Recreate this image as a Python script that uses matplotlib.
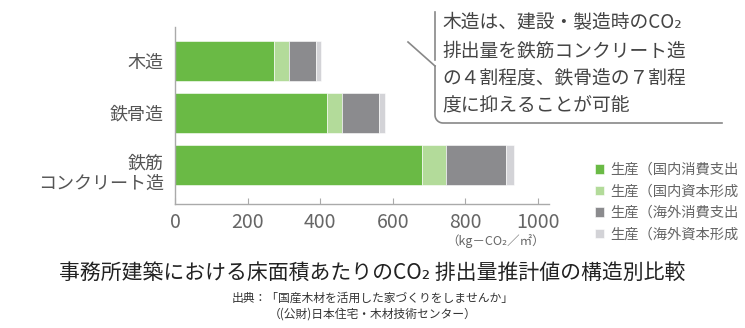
import numpy as np
import matplotlib
matplotlib.use("Agg")
import matplotlib.pyplot as plt
from matplotlib.transforms import ScaledTranslation

plt.rcParams['font.family'] = ['Noto Sans CJK JP', 'DejaVu Sans']

# data (kg-CO2/m2)
structures = ['木造', '鉄骨造', '鉄筋\nコンクリート造']
domestic_consumption = [273, 419, 680]
domestic_capital = [41, 41, 67]
overseas_consumption = [73, 102, 165]
overseas_capital = [15, 17, 22]
# legend labels as far as they show in the original (cut at the right edge)
series_labels = ['生産（国内消費支出', '生産（国内資本形成',
                 '生産（海外消費支出', '生産（海外資本形成']
series_colors = ['#6aba45', '#b3db9a', '#8b8b8e', '#d3d3d7']
xticks = [0, 200, 400, 600, 800, 1000]

callout = ['木造は、建設・製造時のCO₂',
           '排出量を鉄筋コンクリート造',
           'の４割程度、鉄骨造の７割程',
           '度に抑えることが可能']

W, H = 745, 328
fig = plt.figure(figsize=(W / 100, H / 100), dpi=100)
ax = fig.add_axes([175 / W, 1 - 204 / H, (549 - 175) / W, (204 - 27) / H])

series = [domestic_consumption, domestic_capital, overseas_consumption, overseas_capital]
y = np.arange(len(structures))
left = np.zeros(len(structures))
handles = []
for vals, col, lab in zip(series, series_colors, series_labels):
    b = ax.barh(y, vals, left=left, height=0.77, color=col, label=lab,
                edgecolor='white', linewidth=0.4)
    handles.append(b)
    left += np.array(vals)

ax.set_ylim(2.75, -0.654)
ax.set_xlim(0, 1030)
ax.set_yticks(y)
ax.set_yticklabels(structures, fontsize=13, color='#555555', linespacing=1.15)
ax.tick_params(axis='y', length=0, pad=8)
# two-line label sits a little lower in the original
rc_label = ax.get_yticklabels()[2]
rc_label.set_transform(rc_label.get_transform() + ScaledTranslation(0, -6 / 100, fig.dpi_scale_trans))
ax.set_xticks(xticks)
ax.set_xticklabels([str(t) for t in xticks], fontsize=14, color='#666666')
ax.tick_params(axis='x', direction='in', length=4, color='#aaaaaa', pad=6)
for s in ['top', 'right']:
    ax.spines[s].set_visible(False)
for s in ['left', 'bottom']:
    ax.spines[s].set_color('#aaaaaa')
    ax.spines[s].set_linewidth(1.0)

fig.text(545 / W, 1 - 241 / H, '（kg－CO₂／㎡）', ha='right', va='center',
         fontsize=9, color='#666666')

fig.legend(handles=handles, loc='upper left', bbox_to_anchor=(595 / W, 1 - 163 / H),
           frameon=False, fontsize=10.3, handlelength=0.65, handleheight=0.65,
           handletextpad=0.45, labelspacing=0.52, labelcolor='#666666',
           borderaxespad=0, borderpad=0)

# speech bubble
ov = fig.add_axes([0, 0, 1, 1], facecolor='none')
ov.set_xlim(0, W)
ov.set_ylim(H, 0)
ov.axis('off')
lc = '#888888'
ov.plot([435, 435], [12, 60], color=lc, lw=1.2)
ov.plot([408, 435], [42, 66], color=lc, lw=1.2)
r = 8
t = np.linspace(np.pi, np.pi / 2, 12)
arc_x = 435 + r + r * np.cos(t)
arc_y = 123 - r + r * np.sin(t)
bx = np.concatenate([[435], arc_x, [722]])
by = np.concatenate([[66], arc_y, [123]])
ov.plot(bx, by, color=lc, lw=1.2)
for i, line in enumerate(callout):
    ov.text(442, 23 + i * 27.5, line, fontsize=13.5, color='#444444', va='center', ha='left')

fig.text(0.5, 1 - 273 / H, '事務所建築における床面積あたりのCO₂ 排出量推計値の構造別比較',
         ha='center', va='center', fontsize=15, color='#222222')
fig.text(0.5, 1 - 298 / H, '出典：「国産木材を活用した家づくりをしませんか」',
         ha='center', va='center', fontsize=8.5, color='#333333')
fig.text(0.5, 1 - 314 / H, '（(公財)日本住宅・木材技術センター）',
         ha='center', va='center', fontsize=8.5, color='#333333')

fig.savefig('out.png', dpi=100)
